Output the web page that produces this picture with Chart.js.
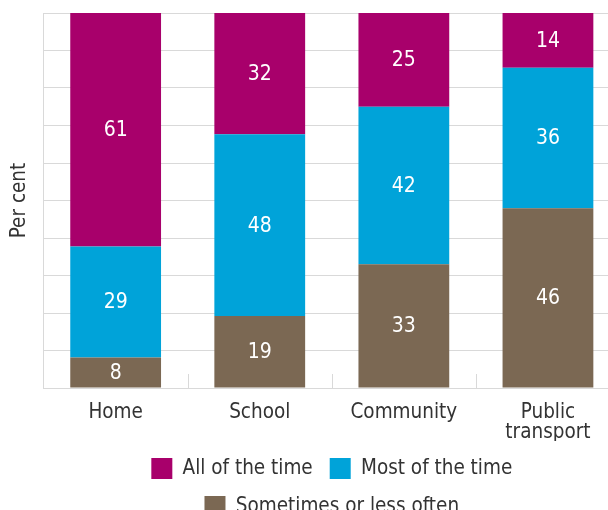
<!DOCTYPE html>
<html>
<head>
<meta charset="utf-8">
<script src="https://cdn.jsdelivr.net/npm/chart.js@4"></script>
<style>
    html, body { margin: 0; padding: 0; background: #fff; overflow: hidden; }
    #wrap { width: 620px; height: 510px; }
</style>
</head>
<body>
<div id="wrap"><canvas id="chart"></canvas></div>
<script>
const categories = ['Home', 'School', 'Community', ['Public', 'transport']];
const allOfTheTime = [61, 32, 25, 14];
const mostOfTheTime = [29, 48, 42, 36];
const sometimesOrLess = [8, 19, 33, 46];
const seriesNames = ['All of the time', 'Most of the time', 'Sometimes or less often'];

const FONT = '"DejaVu Sans Condensed", "DejaVu Sans", Verdana, sans-serif';
const FONT_SIZE = 20.5;
const GRID = '#d9d9d9';

// each column is drawn as a share of its own total (100% stacked)
const totals = categories.map((_, i) => allOfTheTime[i] + mostOfTheTime[i] + sometimesOrLess[i]);
const asShare = arr => arr.map((v, i) => v / totals[i] * 100);

function dataset(label, values, color) {
    return {
        label: label,
        data: asShare(values),
        raw: values,
        backgroundColor: color,
        borderWidth: 0,
        categoryPercentage: 1,
        barPercentage: 0.63
    };
}

// white value labels in the middle of each segment
const segmentLabels = {
    id: 'segmentLabels',
    afterDatasetsDraw(chart) {
        const ctx = chart.ctx;
        ctx.save();
        ctx.fillStyle = '#ffffff';
        ctx.font = '21px ' + FONT;
        ctx.textAlign = 'center';
        ctx.textBaseline = 'middle';
        chart.data.datasets.forEach((ds, di) => {
            chart.getDatasetMeta(di).data.forEach((bar, i) => {
                const mid = (bar.y + bar.base) / 2;
                ctx.fillText(String(ds.raw[i]), bar.x, mid + 1);
            });
        });
        ctx.restore();
    }
};

// short tick marks between the categories, standing on the axis
const categoryTicks = {
    id: 'categoryTicks',
    afterDatasetsDraw(chart) {
        const x = chart.scales.x;
        const bottom = chart.chartArea.bottom;
        const ctx = chart.ctx;
        ctx.save();
        ctx.strokeStyle = GRID;
        ctx.lineWidth = 1;
        for (let i = 1; i < categories.length; i++) {
            const px = Math.round((x.getPixelForValue(i - 1) + x.getPixelForValue(i)) / 2) + 0.5;
            ctx.beginPath();
            ctx.moveTo(px, bottom - 14);
            ctx.lineTo(px, bottom);
            ctx.stroke();
        }
        ctx.restore();
    }
};

new Chart(document.getElementById('chart'), {
    type: 'bar',
    data: {
        labels: categories,
        datasets: [
            dataset(seriesNames[2], sometimesOrLess, '#7b6853'),
            dataset(seriesNames[1], mostOfTheTime, '#00a3d9'),
            dataset(seriesNames[0], allOfTheTime, '#a8006b')
        ]
    },
    options: {
        responsive: true,
        maintainAspectRatio: false,
        animation: false,
        layout: { padding: { top: 13, left: 7, right: 0, bottom: -17 } },
        scales: {
            x: {
                stacked: true,
                grid: { display: false },
                border: { color: GRID },
                ticks: {
                    color: '#333333',
                    font: { family: FONT, size: FONT_SIZE, lineHeight: 1.0 },
                    padding: 6,
                    maxRotation: 0
                },
                // let the category labels sit closer to the legend
                afterFit: scale => { scale.height -= 8; }
            },
            y: {
                stacked: true,
                min: 0,
                max: 100,
                grid: { color: GRID, drawTicks: false },
                border: { color: GRID },
                ticks: { display: false, stepSize: 10 },
                title: {
                    display: true,
                    text: 'Per cent',
                    color: '#333333',
                    font: { family: FONT, size: FONT_SIZE },
                    padding: { top: 0, bottom: 12 }
                }
            }
        },
        plugins: {
            legend: {
                position: 'bottom',
                fullSize: false,
                reverse: true,
                labels: {
                    color: '#333333',
                    font: { family: FONT, size: FONT_SIZE },
                    boxWidth: 21,
                    boxHeight: 21,
                    padding: 17
                }
            },
            tooltip: { enabled: false }
        }
    },
    plugins: [segmentLabels, categoryTicks]
});
</script>
</body>
</html>
